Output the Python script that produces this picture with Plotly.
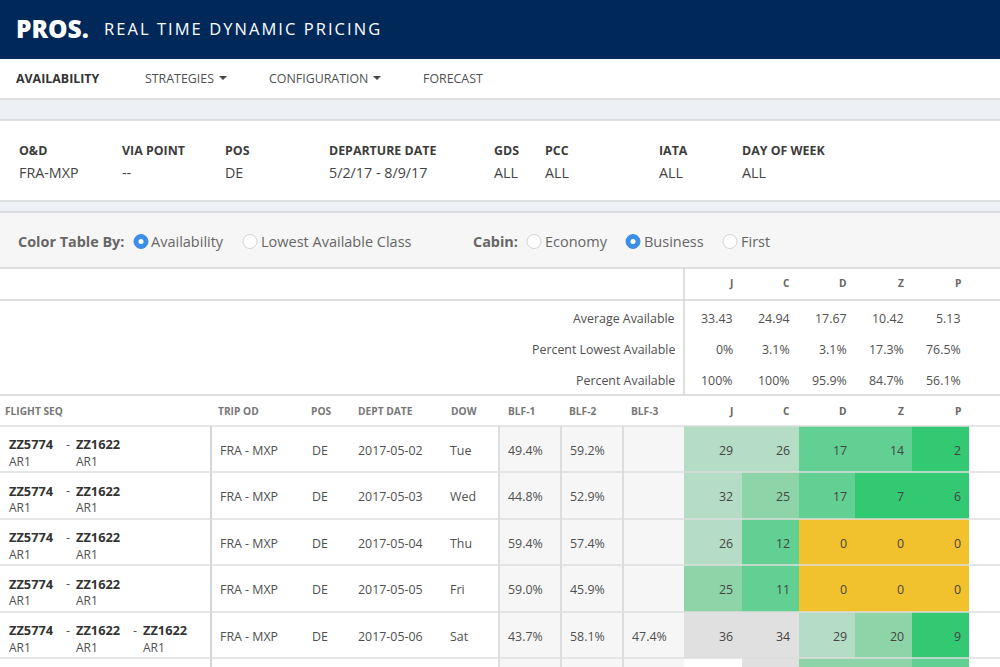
import plotly.graph_objects as go

FONT = "Open Sans"
NAVY = "#00295a"
LINE = "#d3d5d7"
DARK = "#3c3c3c"
GREY = "#666666"
BODY = "#505050"

# values
nav_items = ["AVAILABILITY", "STRATEGIES", "CONFIGURATION", "FORECAST"]
filter_labels = ["O&D", "VIA POINT", "POS", "DEPARTURE DATE", "GDS", "PCC", "IATA", "DAY OF WEEK"]
filter_values = ["FRA-MXP", "--", "DE", "5/2/17 - 8/9/17", "ALL", "ALL", "ALL", "ALL"]
classes = ["J", "C", "D", "Z", "P"]
summary_labels = ["Average Available", "Percent Lowest Available", "Percent Available"]
average_available = ["33.43", "24.94", "17.67", "10.42", "5.13"]
percent_lowest = ["0%", "3.1%", "3.1%", "17.3%", "76.5%"]
percent_available = ["100%", "100%", "95.9%", "84.7%", "56.1%"]
table_headers = ["FLIGHT SEQ", "TRIP OD", "POS", "DEPT DATE", "DOW", "BLF-1", "BLF-2", "BLF-3"]
flights = [["ZZ5774", "ZZ1622"], ["ZZ5774", "ZZ1622"], ["ZZ5774", "ZZ1622"], ["ZZ5774", "ZZ1622"],
           ["ZZ5774", "ZZ1622", "ZZ1622"]]
dept_dates = ["2017-05-02", "2017-05-03", "2017-05-04", "2017-05-05", "2017-05-06"]
dow = ["Tue", "Wed", "Thu", "Fri", "Sat"]
blf1 = ["49.4%", "44.8%", "59.4%", "59.0%", "43.7%"]
blf2 = ["59.2%", "52.9%", "57.4%", "45.9%", "58.1%"]
blf3 = ["", "", "", "", "47.4%"]
# last row is cut off by the picture, values only estimated from its colours
availability = [
    [29, 26, 17, 14, 2],
    [32, 25, 17, 7, 6],
    [26, 12, 0, 0, 0],
    [25, 11, 0, 0, 0],
    [36, 34, 29, 20, 9],
    [None, 34, 22, 22, 15],
]

# layout in pixels, axes run 1:1 with the page
filter_x = [19, 122, 225, 329, 494, 545, 659, 742]
class_x = [733, 790, 847, 904, 961]
cell_edges_x = [684, 742, 799, 855, 912, 969]
row_edges_y = [426, 472, 519, 565, 612, 658, 704]
header_x = [5, 218, 311, 358, 451, 508, 569, 631]
flight_x = [9, 76, 143]


def color_stops():
    breaks = [(0, 1, "#f2c12e"), (1, 10, "#33c872"), (10, 20, "#62d092"),
              (20, 26, "#8dd5a9"), (26, 33, "#b5dcc4"), (33, 40, "#e0e0e0")]
    stops = []
    for lo, hi, col in breaks:
        stops.append([lo / 40, col])
        stops.append([hi / 40, col])
    return stops


annotations = []


def label(x, y, text, size=12.4, color=DARK, anchor="left", bold=False, weight=None):
    annotations.append(dict(
        x=x, y=y, xref="x", yref="y", text=f"<b>{text}</b>" if bold else text, showarrow=False,
        xanchor=anchor, yanchor="middle", align=anchor, borderpad=0, borderwidth=0,
        font=dict(family=FONT, size=size, color=color, weight=weight)))


def rect(x0, y0, x1, y1, color):
    return dict(type="rect", x0=x0, y0=y0, x1=x1, y1=y1, fillcolor=color, line_width=0, layer="below")


def hline(y, color=LINE, width=1.5, x0=0, x1=1000):
    return dict(type="line", x0=x0, x1=x1, y0=y, y1=y, line=dict(color=color, width=width), layer="above")


def vline(x, y0, y1, color=LINE, width=1.5):
    return dict(type="line", x0=x, x1=x, y0=y0, y1=y1, line=dict(color=color, width=width), layer="above")


def radio(cx, cy, on):
    out = [dict(type="circle", x0=cx - 7, x1=cx + 7, y0=cy - 7, y1=cy + 7,
                fillcolor="#3b8fe8" if on else "white",
                line=dict(color="#3b8fe8" if on else "#d4d4d4", width=1), layer="above")]
    if on:
        out.append(dict(type="circle", x0=cx - 2.5, x1=cx + 2.5, y0=cy - 2.5, y1=cy + 2.5,
                        fillcolor="white", line_width=0, layer="above"))
    return out


def caret(x, y):
    return dict(type="path", path=f"M {x} {y} L {x + 8} {y} L {x + 4} {y + 4} Z",
                fillcolor="#444444", line_width=0, layer="above")


fig = go.Figure()

fig.add_trace(go.Heatmap(
    x=cell_edges_x, y=row_edges_y, z=availability, zmin=0, zmax=40, colorscale=color_stops(),
    showscale=False, hoverinfo="skip", xgap=0, ygap=0))

shapes = [
    rect(0, 0, 1000, 59, NAVY),
    rect(0, 99, 1000, 120, "#edf1f5"),
    rect(0, 201, 1000, 212, "#edf1f5"),
    rect(0, 212, 1000, 268, "#f6f6f6"),
    rect(499, 426, 684, 667, "#f6f6f6"),
    hline(99), hline(120), hline(201), hline(212), hline(268),
    hline(300), hline(395),
    vline(684, 268, 395),
    vline(211, 426, 667, width=2),
    vline(499, 426, 667), vline(561, 426, 667), vline(623, 426, 667),
    caret(219, 76), caret(373, 76),
]
for y in row_edges_y[:-1]:
    shapes.append(hline(y, color="#dcdede", width=1.5))
shapes += radio(141, 241.5, True) + radio(250, 241.5, False)
shapes += radio(534, 241.5, False) + radio(633, 241.5, True) + radio(730, 241.5, False)

# header and nav
label(16, 28, "PROS.", size=24.5, color="white", weight=800)
label(104, 28, "REAL TIME DYNAMIC PRICING", size=16.5, color="white")
for x, item, is_active in zip([16, 145, 269, 423], nav_items, [True, False, False, False]):
    label(x, 78, item, bold=is_active, color="#333333" if is_active else BODY)

# filter summary
for x, name, val in zip(filter_x, filter_labels, filter_values):
    label(x, 150, name, bold=True)
    label(x, 172, val, size=14.3, color="#444444")

# colour controls
label(18, 241, "Color Table By:", bold=True, size=14.4, color=GREY)
label(151, 241.5, "Availability", size=14.5, color=GREY)
label(261, 241.5, "Lowest Available Class", size=14.5, color=GREY)
label(473, 241, "Cabin:", bold=True, size=14.4, color=GREY)
label(545, 241.5, "Economy", size=14.5, color=GREY)
label(644, 241.5, "Business", size=14.5, color=GREY)
label(741, 241.5, "First", size=14.5, color=GREY)

# summary block
for i, c in enumerate(classes):
    label(class_x[i], 283, c, bold=True, size=10.2, color=GREY, anchor="right")
    label(class_x[i], 411, c, bold=True, size=10.2, color=GREY, anchor="right")
for y, name, vals in zip([318, 349, 380], summary_labels, [average_available, percent_lowest, percent_available]):
    label(675, y, name, color=BODY, anchor="right")
    for i, v in enumerate(vals):
        label(class_x[i], y, v, color=BODY, anchor="right")

# table
for x, name in zip(header_x, table_headers):
    label(x, 411, name, bold=True, size=10.2, color="#777777")
row_y = [450, 496.5, 543, 589.5, 636]
for r, y in enumerate(row_y):
    for j, fl in enumerate(flights[r]):
        label(flight_x[j], y - 6, fl, bold=True, size=12.8, color="#333333")
        label(flight_x[j], y + 11, "AR1", size=12, color=BODY)
        if j > 0:
            label(flight_x[j] - 10, y - 6, "-", size=12.5, color=BODY)
    label(220, y, "FRA - MXP", color=BODY)
    label(312, y, "DE", color=BODY)
    label(358, y, dept_dates[r], color=BODY)
    label(450, y, dow[r], color=BODY)
    label(508, y, blf1[r], color=BODY)
    label(570, y, blf2[r], color=BODY)
    if blf3[r]:
        label(632, y, blf3[r], color=BODY)
    for i, v in enumerate(availability[r]):
        label(class_x[i], y, str(v), color="#444444", anchor="right")

fig.update_layout(
    width=1000, height=667, margin=dict(l=0, r=0, t=0, b=0),
    paper_bgcolor="white", plot_bgcolor="rgba(0,0,0,0)", showlegend=False,
    xaxis=dict(range=[0, 1000], visible=False, fixedrange=True),
    yaxis=dict(range=[667, 0], visible=False, fixedrange=True),
    shapes=shapes, annotations=annotations,
)

# page margin off, title gets its wide tracking
page_fix = """
document.body.style.margin = '0';
document.querySelectorAll('.annotation-text').forEach(function (t) {
    if (t.textContent.indexOf('REAL TIME') === 0) { t.style.letterSpacing = '2.05px'; }
});
"""
fig.write_html("out.html", config=dict(displayModeBar=False), post_script=page_fix)
